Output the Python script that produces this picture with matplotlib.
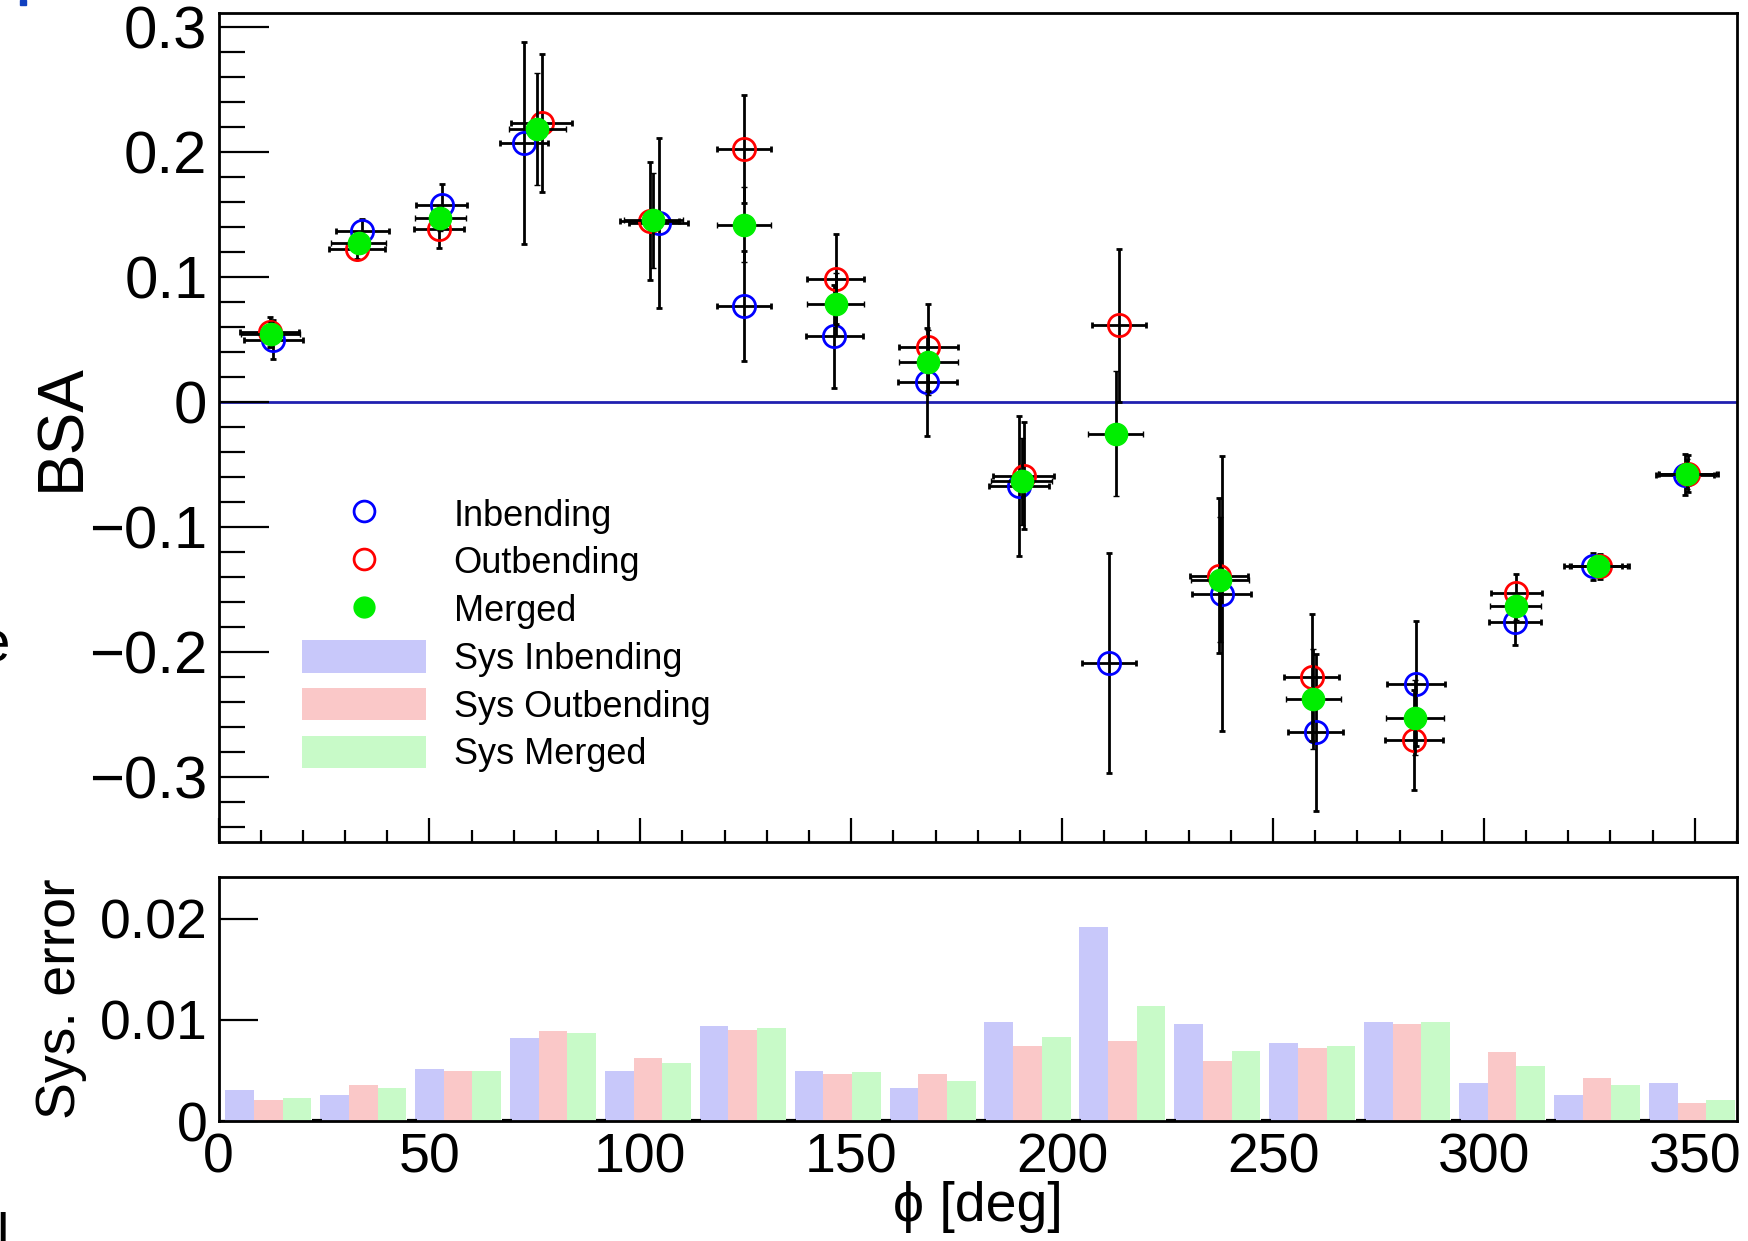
import numpy as np
import matplotlib
matplotlib.use("Agg")
import matplotlib.pyplot as plt
from matplotlib.patches import Patch, Rectangle
from matplotlib.lines import Line2D

plt.rcParams['font.family'] = ['Liberation Sans', 'DejaVu Sans']

# ---- data ----
phi_in = [13.0, 34.1, 52.9, 72.5, 104.4, 124.6, 146.0, 168.0, 189.8, 211.1, 237.8, 260.1, 283.9, 307.4, 325.9, 347.6]
bsa_in = [0.0496, 0.1363, 0.1576, 0.2069, 0.1429, 0.0763, 0.0523, 0.0160, -0.0675, -0.2088, -0.1533, -0.2643, -0.2253, -0.1763, -0.1315, -0.0581]
err_in = [0.0155, 0.0100, 0.0170, 0.0810, 0.0680, 0.0440, 0.0410, 0.0430, 0.0560, 0.0880, 0.1100, 0.0630, 0.0500, 0.0180, 0.0110, 0.0167]
dphi_in = [7.0, 6.3, 6.0, 5.7, 7.0, 6.5, 6.7, 7.0, 7.2, 6.5, 6.9, 6.5, 6.9, 6.1, 6.9, 6.9]

phi_out = [12.2, 32.8, 52.3, 76.6, 102.2, 124.6, 146.3, 168.3, 190.9, 213.4, 237.2, 259.2, 283.4, 307.7, 327.6, 348.5]
bsa_out = [0.0560, 0.1221, 0.1381, 0.2229, 0.1448, 0.2021, 0.0981, 0.0435, -0.0589, 0.0611, -0.1389, -0.2203, -0.2701, -0.1528, -0.1315, -0.0573]
err_out = [0.0120, 0.0080, 0.0150, 0.0550, 0.0470, 0.0430, 0.0360, 0.0350, 0.0430, 0.0610, 0.0620, 0.0510, 0.0400, 0.0150, 0.0100, 0.0150]
dphi_out = [7.0, 6.6, 6.0, 7.2, 7.0, 6.5, 6.7, 7.0, 7.2, 6.4, 6.9, 6.5, 6.9, 6.1, 6.9, 6.9]

phi_mrg = [12.4, 33.2, 52.6, 75.6, 103.1, 124.6, 146.3, 168.3, 190.4, 212.7, 237.4, 259.5, 283.6, 307.5, 327.0, 348.2]
bsa_mrg = [0.0541, 0.1269, 0.1467, 0.2181, 0.1453, 0.1416, 0.0779, 0.0315, -0.0635, -0.0253, -0.1421, -0.2373, -0.2528, -0.1635, -0.1315, -0.0573]
err_mrg = [0.0100, 0.0060, 0.0100, 0.0450, 0.0380, 0.0300, 0.0250, 0.0260, 0.0350, 0.0500, 0.0500, 0.0400, 0.0300, 0.0110, 0.0080, 0.0120]
dphi_mrg = [7.0, 6.5, 6.0, 6.8, 7.0, 6.5, 6.7, 7.0, 7.2, 6.5, 6.9, 6.5, 6.9, 6.1, 6.9, 6.9]

sys_in = [0.0031, 0.0026, 0.0051, 0.0082, 0.0049, 0.0094, 0.0049, 0.0033, 0.0098, 0.0192, 0.0096, 0.0077, 0.0098, 0.0038, 0.0026, 0.0038]
sys_out = [0.0021, 0.0036, 0.0049, 0.0089, 0.0062, 0.0090, 0.0046, 0.0046, 0.0074, 0.0079, 0.0059, 0.0072, 0.0096, 0.0068, 0.0042, 0.0018]
sys_mrg = [0.0023, 0.0033, 0.0049, 0.0087, 0.0057, 0.0092, 0.0048, 0.0040, 0.0083, 0.0114, 0.0069, 0.0074, 0.0098, 0.0054, 0.0036, 0.0021]

bin_width = 22.5
bsa_ticks = [-0.3, -0.2, -0.1, 0.0, 0.1, 0.2, 0.3]
bsa_tick_labels = ['\u22120.3', '\u22120.2', '\u22120.1', '0', '0.1', '0.2', '0.3']
sys_ticks = [0.0, 0.01, 0.02]
sys_tick_labels = ['0', '0.01', '0.02']
phi_ticks = [0, 50, 100, 150, 200, 250, 300, 350]

W, H = 1748, 1241
fig = plt.figure(figsize=(W / 100, H / 100), dpi=100)
ax1 = fig.add_axes([218.5 / W, 1 - 842 / H, 1518.5 / W, 829 / H])
ax2 = fig.add_axes([218.5 / W, 1 - 1121 / H, 1518.5 / W, 244 / H])

# ---- top panel: BSA ----
ax1.axhline(0, color='#2020b0', lw=2, zorder=1)
common = dict(ecolor='black', elinewidth=2, capsize=2.5, capthick=2, ms=16, ls='none')
ax1.errorbar(phi_in, bsa_in, yerr=err_in, xerr=dphi_in, fmt='o', mfc='none', mec='#0000ff',
             mew=2, zorder=3, **common)
ax1.errorbar(phi_out, bsa_out, yerr=err_out, xerr=dphi_out, fmt='o', mfc='none', mec='#ff0000',
             mew=2, zorder=4, **common)
ax1.errorbar(phi_mrg, bsa_mrg, yerr=err_mrg, xerr=dphi_mrg, fmt='o', mfc='#00ee00', mec='#00ee00',
             mew=1, zorder=5, **common)

ax1.set_xlim(0, 360)
ax1.set_ylim(-0.352, 0.311)
ax1.set_yticks(bsa_ticks)
ax1.set_yticklabels(bsa_tick_labels)
ax1.set_yticks(np.arange(-0.34, 0.31, 0.02), minor=True)
ax1.set_xticks(phi_ticks)
ax1.set_xticks(np.arange(0, 361, 10), minor=True)
ax1.tick_params(axis='y', which='major', direction='in', length=36, width=1.6, labelsize=43, pad=8)
ax1.tick_params(axis='y', which='minor', direction='in', length=19, width=1.6)
ax1.tick_params(axis='x', which='major', direction='in', length=17, width=1.6, labelbottom=False)
ax1.tick_params(axis='x', which='minor', direction='in', length=9, width=1.6)
ax1.set_ylabel('BSA', fontsize=46, va='center')
ax1.yaxis.set_label_coords(-0.103, 0.5)
for s in ax1.spines.values():
    s.set_linewidth(2)

handles = [
    Line2D([], [], ls='none', marker='o', ms=15, mfc='none', mec='#0000ff', mew=2),
    Line2D([], [], ls='none', marker='o', ms=15, mfc='none', mec='#ff0000', mew=2),
    Line2D([], [], ls='none', marker='o', ms=15, mfc='#00ee00', mec='#00ee00'),
    Patch(facecolor='#c8c8fa', edgecolor='none'),
    Patch(facecolor='#fac8c8', edgecolor='none'),
    Patch(facecolor='#c8fac8', edgecolor='none'),
]
labels = ['Inbending', 'Outbending', 'Merged', 'Sys Inbending', 'Sys Outbending', 'Sys Merged']
ax1.legend(handles, labels, loc='upper left', bbox_to_anchor=(0.055, 0.416), frameon=False,
           fontsize=26, handlelength=3.43, handleheight=1.0, handletextpad=0.77,
           labelspacing=0.31, borderpad=0, borderaxespad=0)

# ---- bottom panel: systematic errors ----
bin_lo = np.arange(16) * bin_width
bw = 6.8
ax2.bar(bin_lo + 1.6, sys_in, width=bw, align='edge', color='#c8c8fa', zorder=2)
ax2.bar(bin_lo + 1.6 + bw, sys_out, width=bw, align='edge', color='#fac8c8', zorder=2)
ax2.bar(bin_lo + 1.6 + 2 * bw, sys_mrg, width=bw, align='edge', color='#c8fac8', zorder=2)
ax2.plot(bin_lo[1:] + 0.8, np.zeros(15), ls='none', marker='_', ms=7, mew=3, color='black', zorder=3)

ax2.set_xlim(0, 360)
ax2.set_ylim(0, 0.0241)
ax2.set_yticks(sys_ticks)
ax2.set_yticklabels(sys_tick_labels)
ax2.set_xticks(phi_ticks)
ax2.tick_params(axis='y', direction='in', length=28, width=1.6, labelsize=40, pad=8)
ax2.tick_params(axis='x', length=0, labelsize=40, pad=8)
ax2.set_ylabel('Sys. error', fontsize=40, va='center')
ax2.yaxis.set_label_coords(-0.1037, 0.5)
ax2.set_xlabel('\u03d5 [deg]', fontsize=40, va='center')
ax2.xaxis.set_label_coords(0.5, -0.352)
for s in ax2.spines.values():
    s.set_linewidth(2)

# cropped fragments of neighbouring page text at the left edge
fig.patches.append(Rectangle((20 / W, 1 - 5 / H), 6 / W, 5 / H, transform=fig.transFigure,
                             color='#1040c0'))
fig.text(10 / W, 1 - 646 / H, 'e', fontsize=42, ha='right', va='center')
fig.text(-4 / W, 1 - 1252 / H, 'l', fontsize=40, ha='left', va='baseline')

fig.savefig('out.png', dpi=100)
